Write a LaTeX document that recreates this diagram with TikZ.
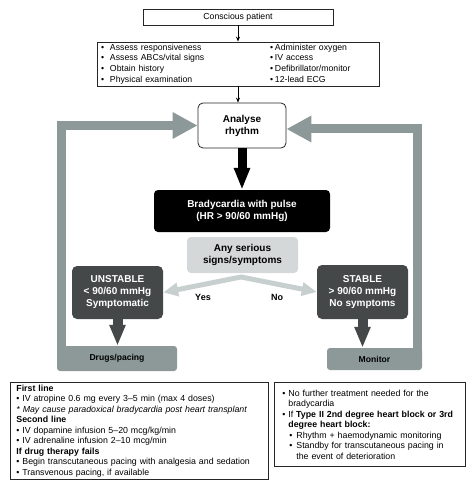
\documentclass[tikz,border=0pt]{standalone}
\usepackage{fontspec}
\setmainfont{Liberation Sans}
\usetikzlibrary{positioning, arrows.meta}
\definecolor{loopgray}{RGB}{141,152,152}
\definecolor{stategray}{RGB}{68,72,73}
\definecolor{askgray}{RGB}{212,216,216}
\definecolor{forkgray}{RGB}{200,207,207}

\begin{document}
\begin{tikzpicture}[x=1pt, y=-1pt, >={Stealth[length=5pt,width=4pt]},
  every node/.style={font=\fontsize{8.7}{10.6}\selectfont, inner sep=0pt},
  plainbox/.style={draw=black!85, line width=0.8pt},
  boldtext/.style={font=\bfseries\fontsize{10}{12}\selectfont, align=center},
  statebox/.style={boldtext, fill=stategray, text=white, rounded corners=5pt, minimum width=91pt},
  actionbox/.style={fill=loopgray, rounded corners=3pt, font=\bfseries\fontsize{8.6}{10}\selectfont},
  notebox/.style={plainbox, anchor=north west, align=left, font=\fontsize{8.8}{10.5}\selectfont}]

  \useasboundingbox (0,0) rectangle (474,489);

  \node[plainbox, minimum width=190pt, minimum height=16pt] (conscious) at (238,17) {Conscious patient};
  \node[plainbox, minimum width=282pt, minimum height=44pt, text width=274pt, inner xsep=4pt, align=left] (assess) at (238,64)
    {\begin{tabular}{@{}p{169pt}@{}l@{}}
      \makebox[9pt][l]{•}Assess responsiveness & \makebox[5pt][l]{•}Administer oxygen\\
      \makebox[9pt][l]{•}Assess ABCs/vital signs & \makebox[5pt][l]{•}IV access\\
      \makebox[9pt][l]{•}Obtain history & \makebox[5pt][l]{•}Defibrillator/monitor\\
      \makebox[9pt][l]{•}Physical examination & \makebox[5pt][l]{•}12-lead ECG
    \end{tabular}};

  \node[plainbox, boldtext, fill=white, rounded corners=5pt, minimum width=88pt, minimum height=45pt] (analyse) at (242,125.5) {Analyse\\rhythm};
  \node[boldtext, fill=black, text=white, rounded corners=4pt, minimum width=176pt, minimum height=42pt] (brady) at (242,211) {Bradycardia with pulse\\(HR > 90/60 mmHg)};
  \node[boldtext, fill=askgray, rounded corners=4pt, minimum width=111pt, minimum height=36pt] (serious) at (242.5,255) {Any serious\\signs/symptoms};

  \node[statebox, minimum height=53pt] (unstable) at (117.5,292.5) {UNSTABLE\\< 90/60 mmHg\\Symptomatic};
  \node[statebox, minimum height=54pt] (stable) at (362.5,292) {STABLE\\> 90/60 mmHg\\No symptoms};

  \node[actionbox, minimum width=120pt, minimum height=25pt] (drugs) at (117,358.5) {Drugs/pacing};
  \node[actionbox, minimum width=95pt, minimum height=22pt] (monitor) at (374.5,359) {Monitor};

  \node[font=\bfseries\fontsize{9}{10}\selectfont] (yes) at (203,297) {Yes};
  \node[font=\bfseries\fontsize{9}{10}\selectfont] (no) at (277,297) {No};

  \node[notebox, minimum width=258pt, minimum height=97pt, text width=246pt, inner xsep=6pt] (treat) at (10,382)
    {\textbf{First line}\\
     \makebox[6pt][l]{•}IV atropine 0.6 mg every 3–5 min (max 4 doses)\\
     \textit{* May cause paradoxical bradycardia post heart transplant}\\
     \textbf{Second line}\\
     \makebox[6pt][l]{•}IV dopamine infusion 5–20 mcg/kg/min\\
     \makebox[6pt][l]{•}IV adrenaline infusion 2–10 mcg/min\\
     \textbf{If drug therapy fails}\\
     \makebox[6pt][l]{•}Begin transcutaneous pacing with analgesia and sedation\\
     \makebox[6pt][l]{•}Transvenous pacing, if available};
  \node[notebox, minimum width=191pt, minimum height=84pt, text width=175pt, inner xsep=8pt] (watch) at (274,382)
    {\makebox[6pt][l]{•}No further treatment needed for the\\
     \hspace*{6pt}bradycardia\\
     \makebox[6pt][l]{•}If \textbf{Type II 2nd degree heart block or 3rd}\\
     \hspace*{6pt}\textbf{degree heart block:}\\
     \hspace*{7pt}\makebox[7pt][l]{•}Rhythm + haemodynamic monitoring\\
     \hspace*{7pt}\makebox[7pt][l]{•}Standby for transcutaneous pacing in\\
     \hspace*{14pt}the event of deterioration};

  \coordinate (fork) at (241,277);

  \draw[->, line width=0.8pt] (conscious) -- (assess);
  \draw[->, line width=0.8pt] (assess.south) -- (assess.south |- analyse.north);
  \draw[line width=9pt, -{Triangle[width=15pt,length=22pt]}] (analyse.south) -- (brady.north);
  \draw[forkgray, line width=5pt, {Triangle[width=13pt,length=15pt]}-{Triangle[width=13pt,length=15pt]}] (unstable.east) -- (fork) -- (stable.west);
  \draw[stategray, line width=10pt, -{Triangle[width=15pt,length=21pt]}] (unstable.south) -- (unstable.south |- drugs.north);
  \draw[stategray, line width=10pt, -{Triangle[width=15pt,length=21pt]}] (stable.south) -- (stable.south |- monitor.north);
  \draw[loopgray, line width=9pt, -{Triangle[width=25pt,length=25pt]}] ([xshift=4.5pt,yshift=-3pt]drugs.north west) |- (analyse.west);
  \draw[loopgray, line width=9pt, -{Triangle[width=25pt,length=25pt]}] ([xshift=-4.5pt,yshift=-3pt]monitor.north east) |- ([yshift=-3.5pt]analyse.east);
\end{tikzpicture}
\end{document}
